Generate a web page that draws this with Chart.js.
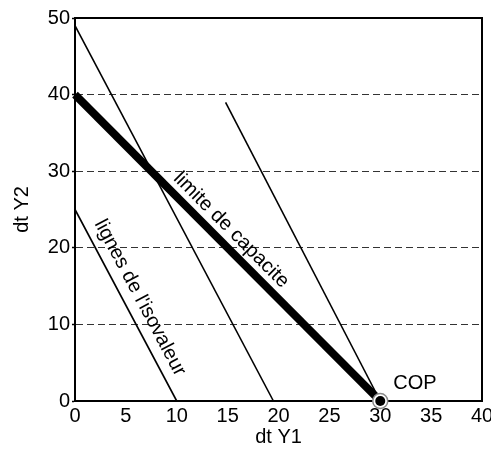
<!DOCTYPE html>
<html><head><meta charset="utf-8">
<script src="https://cdn.jsdelivr.net/npm/chart.js@4"></script>
<style>html,body{margin:0;padding:0;background:#fff;} canvas{display:block;}</style>
</head><body>
<canvas id="c" width="491" height="452"></canvas>
<script>
// ---- data ----
const xTicks = [0, 5, 10, 15, 20, 25, 30, 35, 40];
const yTicks = [0, 10, 20, 30, 40, 50];
const capaciteX = [0, 30];
const capaciteY = [40, 0];
const iso1X = [0, 10];
const iso1Y = [25, 0];
const iso2X = [0, 19.5];
const iso2Y = [49, 0];
const iso3X = [14.8, 30];
const iso3Y = [39, 0];
const copX = [30];
const copY = [0];
const xTitle = 'dt Y1';
const yTitle = 'dt Y2';
const capaciteLabel = 'limite de capacite';
const isoLabel = "lignes de l'isovaleur";
const copLabel = 'COP';

const FONT = '"Liberation Sans", Arial, sans-serif';
const pts = (xs, ys) => xs.map((v, i) => ({x: v, y: ys[i]}));

Chart.defaults.color = '#000';
Chart.defaults.font.family = FONT;
Chart.defaults.font.size = 20;

const annot = {
  id: 'annot',
  afterDraw(chart) {
    const {ctx, chartArea: a, scales: {x, y}} = chart;
    ctx.save();
    ctx.strokeStyle = '#000';
    ctx.lineWidth = 2;
    ctx.beginPath();
    ctx.moveTo(a.left - 1, a.top);
    ctx.lineTo(a.right, a.top);
    ctx.lineTo(a.right, a.bottom + 1);
    ctx.stroke();
    const lineLabel = (xs, ys, t, text, off) => {
      const x0 = x.getPixelForValue(xs[0]), y0 = y.getPixelForValue(ys[0]);
      const x1 = x.getPixelForValue(xs[1]), y1 = y.getPixelForValue(ys[1]);
      const ang = Math.atan2(y1 - y0, x1 - x0);
      const px = x0 + (x1 - x0) * t, py = y0 + (y1 - y0) * t;
      const nx = Math.sin(ang), ny = -Math.cos(ang);
      ctx.save();
      ctx.translate(px + nx * off, py + ny * off);
      ctx.rotate(ang);
      ctx.font = '20px ' + FONT;
      ctx.fillStyle = '#000';
      ctx.textAlign = 'center';
      ctx.textBaseline = 'middle';
      ctx.fillText(text, 0, 0);
      ctx.restore();
    };
    lineLabel(capaciteX, capaciteY, 14.3 / 30, capaciteLabel, 15);
    lineLabel(iso1X, iso1Y, 0.5, isoLabel, 16);
    ctx.font = '20px ' + FONT;
    ctx.fillStyle = '#000';
    ctx.textAlign = 'left';
    ctx.textBaseline = 'middle';
    ctx.fillText(copLabel, x.getPixelForValue(copX[0]) + 13, y.getPixelForValue(copY[0]) - 18);
    ctx.restore();
  }
};

new Chart(document.getElementById('c'), {
  type: 'scatter',
  data: {
    datasets: [
      {data: pts(copX, copY), pointRadius: 5, pointBackgroundColor: '#000', pointBorderWidth: 0, showLine: false, clip: false},
      {data: pts(copX, copY), pointRadius: 7.5, pointBackgroundColor: '#fff', pointBorderColor: '#8a8a8a', pointBorderWidth: 1.5, showLine: false, clip: false},
      {data: pts(capaciteX, capaciteY), showLine: true, borderColor: '#000', borderWidth: 8, pointRadius: 0, clip: false},
      {data: pts(iso1X, iso1Y), showLine: true, borderColor: '#000', borderWidth: 1.6, pointRadius: 0, clip: false},
      {data: pts(iso2X, iso2Y), showLine: true, borderColor: '#000', borderWidth: 1.6, pointRadius: 0, clip: false},
      {data: pts(iso3X, iso3Y), showLine: true, borderColor: '#000', borderWidth: 1.6, pointRadius: 0, clip: false}
    ]
  },
  options: {
    responsive: false,
    animation: false,
    layout: {padding: {top: 18, right: 9, left: 0, bottom: 0}},
    plugins: {legend: {display: false}, tooltip: {enabled: false}},
    scales: {
      x: {
        type: 'linear', min: 0, max: 40,
        afterBuildTicks: s => { s.ticks = xTicks.map(v => ({value: v})); },
        afterFit: s => { s.height = 51; s.paddingRight = 0; s.paddingLeft = 0; },
        grid: {display: false, drawTicks: false},
        border: {display: true, color: '#000', width: 2},
        ticks: {padding: 3, color: '#000', font: {size: 20}},
        title: {display: true, text: xTitle, color: '#000', font: {size: 20}, padding: {top: 0, bottom: 3}}
      },
      y: {
        type: 'linear', min: 0, max: 50,
        afterBuildTicks: s => { s.ticks = yTicks.map(v => ({value: v})); },
        afterFit: s => { s.width = 75; s.paddingTop = 0; s.paddingBottom = 0; },
        grid: {
          color: c => (c.tick && (c.tick.value === 0 || c.tick.value === 50)) ? 'rgba(0,0,0,0)' : '#333',
          lineWidth: 1, drawTicks: true, tickLength: 3, tickColor: '#000', tickWidth: 1.5
        },
        border: {display: true, color: '#000', width: 2, dash: [7, 4]},
        ticks: {padding: 2, color: '#000', font: {size: 20}},
        title: {display: true, text: yTitle, color: '#000', font: {size: 20}, padding: {top: 10, bottom: 0}}
      }
    }
  },
  plugins: [annot]
});
</script>
</body></html>
